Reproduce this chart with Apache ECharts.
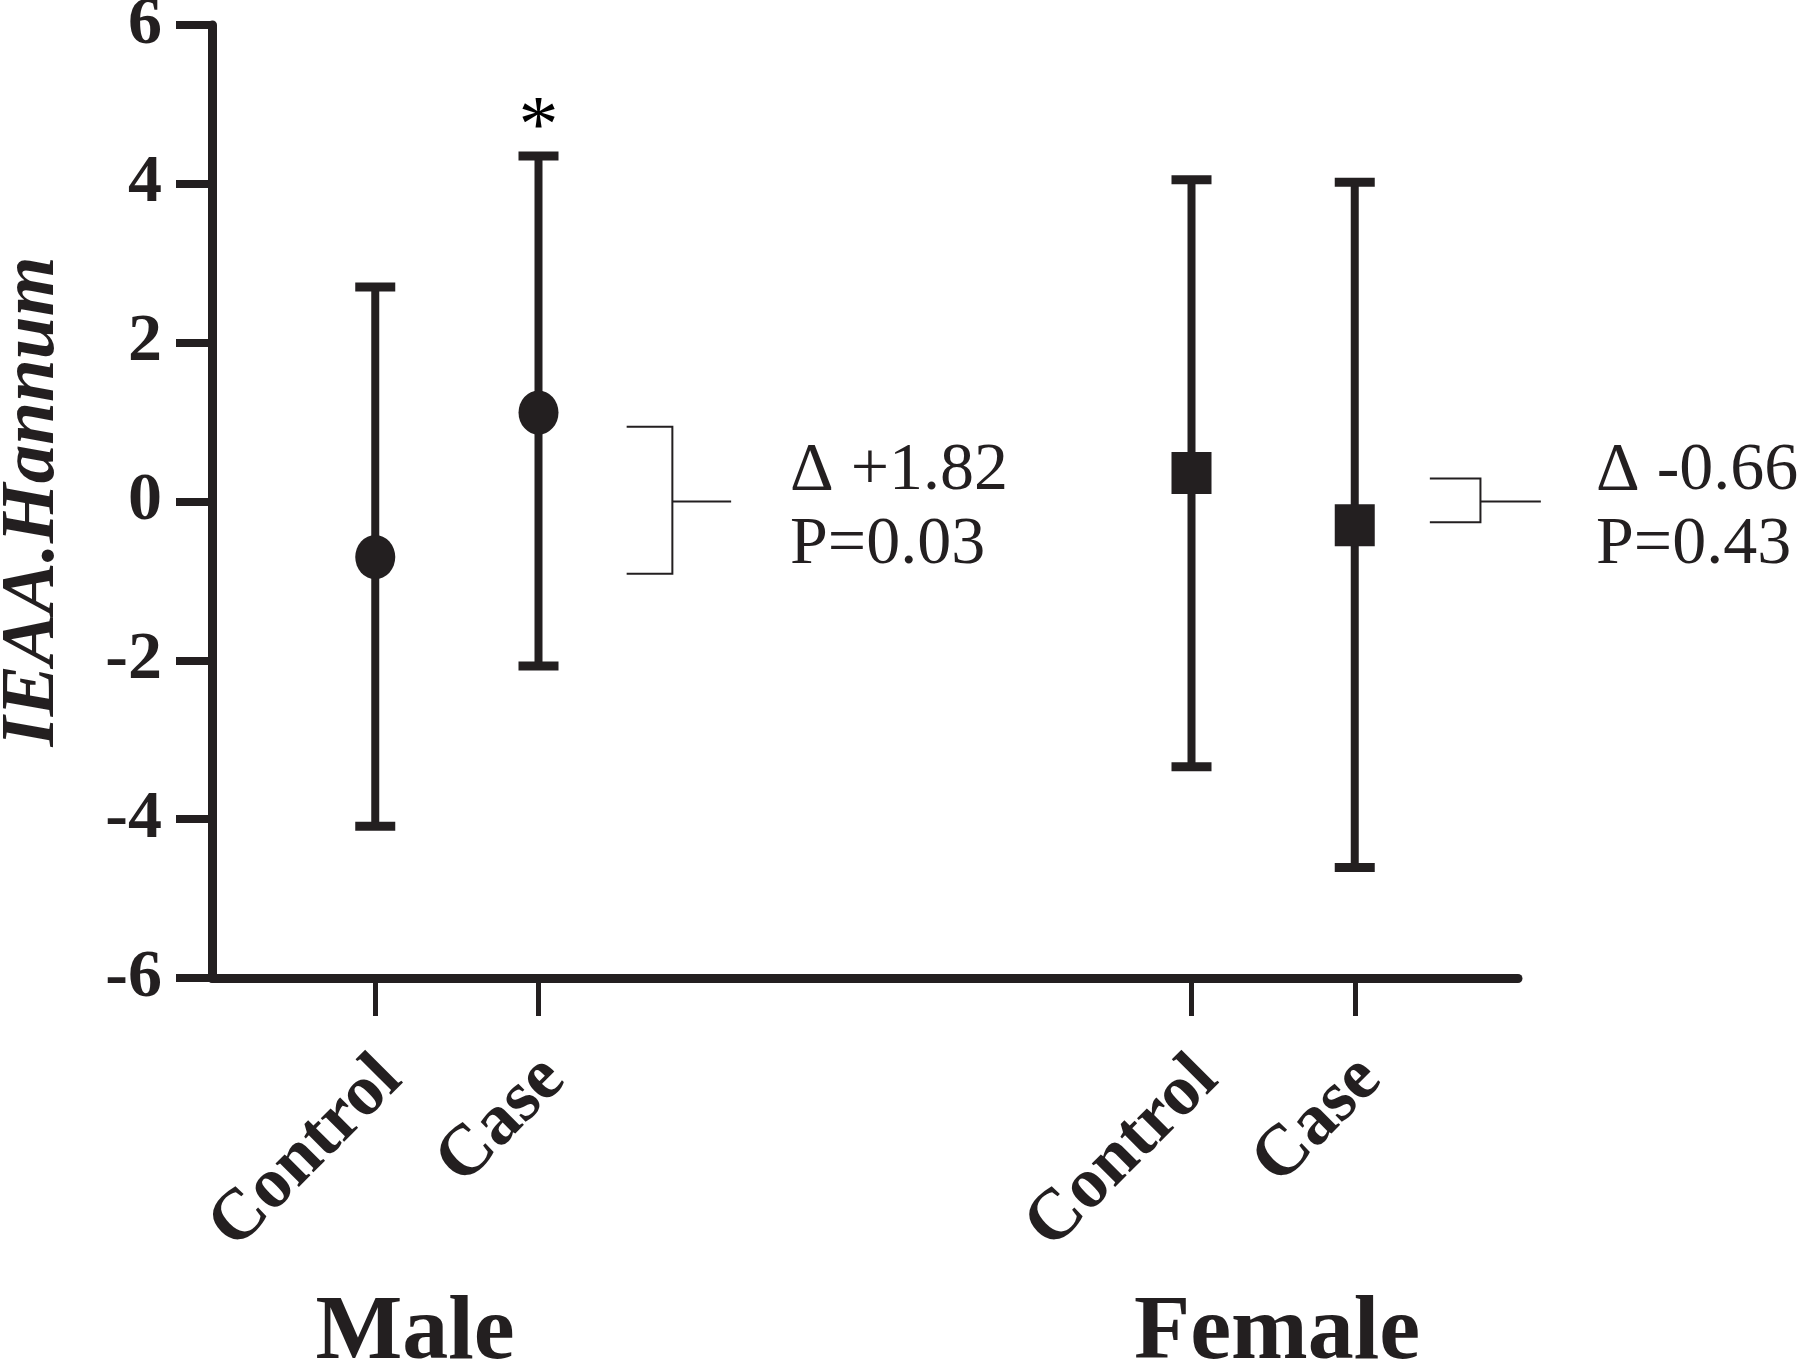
<!DOCTYPE html>
<html><head><meta charset="utf-8">
<script src="https://cdn.jsdelivr.net/npm/echarts@6/dist/echarts.min.js"></script>
<style>html,body{margin:0;padding:0;background:#fff}#c{width:1800px;height:1368px}</style>
</head><body><div id="c"></div>
<script>
const categories = ['Control', 'Case', 'Control', 'Case'];
const groups = ['Male', 'Female'];
const xPos = [1, 2, 6, 7];
const means = [-0.70, 1.12, 0.36, -0.30];
const upper = [2.70, 4.35, 4.05, 4.02];
const lower = [-4.09, -2.07, -3.34, -4.61];
const yMin = -6, yMax = 6, yStep = 2;
const deltas = ['Δ +1.82', 'Δ -0.66'];
const pvals = ['P=0.03', 'P=0.43'];
// bracket: [capStartX, spineX, stemEndX, topY, bottomY, stemY]
const brackets = [
  [2.54, 2.82, 3.18, 0.94, -0.91, 0],
  [7.46, 7.77, 8.14, 0.29, -0.26, 0]
];

const ink = '#231f20';
const serif = '"Liberation Serif","Times New Roman",serif';
const chart = echarts.init(document.getElementById('c'));

const barData = xPos.map((x, i) => [x, means[i], lower[i], upper[i]]);
const maleMeans = [0, 1].map(i => [xPos[i], means[i]]);
const femaleMeans = [2, 3].map(i => [xPos[i], means[i]]);

chart.setOption({
  animation: false,
  backgroundColor: '#fff',
  grid: {left: 212, right: 282, top: 25, bottom: 390, containLabel: false, outerBoundsMode: 'none'},
  xAxis: {
    type: 'value', min: 0, max: 8,
    splitLine: {show: false},
    axisLine: {show: true, onZero: false, lineStyle: {color: ink, width: 9}},
    axisTick: {show: true, customValues: xPos, length: 38, lineStyle: {color: ink, width: 5}},
    axisLabel: {
      show: true, customValues: xPos, rotate: 45, margin: 75,
      verticalAlign: 'top', lineHeight: 44,
      formatter: v => categories[xPos.indexOf(v)] || '',
      fontFamily: serif, fontWeight: 'bold', fontSize: 72, color: ink
    }
  },
  yAxis: {
    type: 'value', min: yMin, max: yMax, interval: yStep,
    name: 'IEAA.Hannum', nameLocation: 'middle', nameGap: 140,
    nameTextStyle: {fontFamily: serif, fontWeight: 'bold', fontStyle: 'italic', fontSize: 77, color: ink},
    splitLine: {show: false},
    axisLine: {show: true, onZero: false, lineStyle: {color: ink, width: 9}},
    axisTick: {show: true, length: 36, lineStyle: {color: ink, width: 8}},
    axisLabel: {margin: 50, fontFamily: serif, fontWeight: 'bold', fontSize: 68, color: ink}
  },
  series: [
    {
      type: 'custom', data: barData, z: 2,
      renderItem: function (params, api) {
        const x = api.value(0);
        const lo = api.coord([x, api.value(2)]);
        const hi = api.coord([x, api.value(3)]);
        const cw = 20;
        const st = {stroke: ink, lineWidth: 8};
        const cs = {stroke: ink, lineWidth: 9};
        return {type: 'group', children: [
          {type: 'line', shape: {x1: hi[0], y1: hi[1], x2: lo[0], y2: lo[1]}, style: st},
          {type: 'line', shape: {x1: hi[0] - cw, y1: hi[1], x2: hi[0] + cw, y2: hi[1]}, style: cs},
          {type: 'line', shape: {x1: lo[0] - cw, y1: lo[1], x2: lo[0] + cw, y2: lo[1]}, style: cs}
        ]};
      }
    },
    {
      type: 'custom', data: brackets, clip: false, z: 1, silent: true,
      renderItem: function (params, api) {
        const a = api.coord([api.value(0), api.value(3)]);
        const b = api.coord([api.value(1), api.value(3)]);
        const c = api.coord([api.value(1), api.value(4)]);
        const d = api.coord([api.value(0), api.value(4)]);
        const s0 = api.coord([api.value(1), api.value(5)]);
        const s1 = api.coord([api.value(2), api.value(5)]);
        const st = {stroke: ink, lineWidth: 2, fill: null};
        return {type: 'group', children: [
          {type: 'polyline', shape: {points: [a, b, c, d]}, style: st},
          {type: 'line', shape: {x1: s0[0], y1: s0[1], x2: s1[0], y2: s1[1]}, style: st}
        ]};
      }
    },
    {type: 'scatter', data: maleMeans, symbol: 'circle', symbolSize: [40, 44],
      itemStyle: {color: ink, opacity: 1}, z: 3},
    {type: 'scatter', data: femaleMeans, symbol: 'rect', symbolSize: [40, 42],
      itemStyle: {color: ink, opacity: 1}, z: 3},
    {type: 'scatter', data: [[xPos[1], upper[1]]], symbolSize: 1, z: 3,
      itemStyle: {color: 'rgba(0,0,0,0)'},
      label: {show: true, formatter: '*', position: 'top', distance: -14,
        fontFamily: serif, fontSize: 80, color: '#000', opacity: 1}}
  ],
  graphic: [
    {type: 'text', left: 790, top: 434, style: {text: deltas[0] + '\n' + pvals[0], font: '68px ' + serif, lineHeight: 74, fill: ink}},
    {type: 'text', left: 1596, top: 434, style: {text: deltas[1] + '\n' + pvals[1], font: '68px ' + serif, lineHeight: 74, fill: ink}},
    {type: 'text', x: 415, y: 1334, style: {text: groups[0], font: 'bold 92px ' + serif, fill: ink, align: 'center', verticalAlign: 'middle'}},
    {type: 'text', x: 1277, y: 1334, style: {text: groups[1], font: 'bold 92px ' + serif, fill: ink, align: 'center', verticalAlign: 'middle'}}
  ]
});
</script></body></html>
